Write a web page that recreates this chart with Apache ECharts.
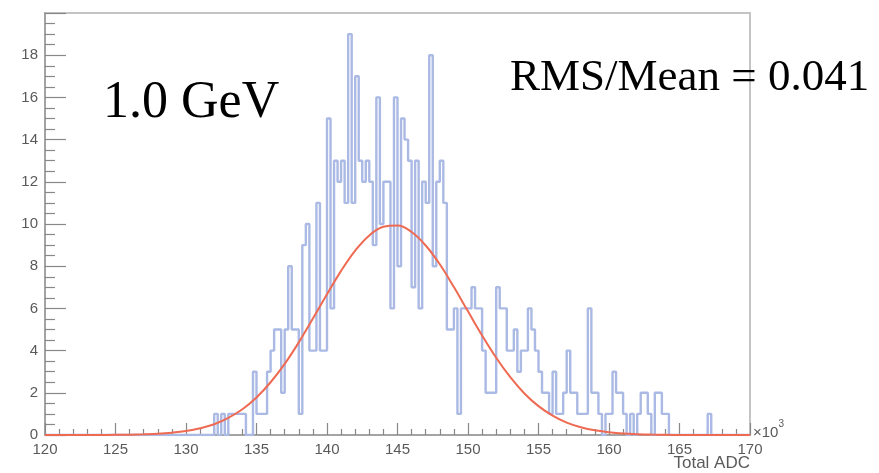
<!DOCTYPE html>
<html>
<head>
<meta charset="utf-8">
<script src="https://cdn.jsdelivr.net/npm/echarts@6/dist/echarts.min.js"></script>
<style>
  html, body { margin: 0; padding: 0; background: #ffffff; }
  #chart { width: 879px; height: 473px; }
</style>
</head>
<body>
<div id="chart"></div>
<script>
// Total ADC histogram: 200 bins from 120 to 170 (x10^3)
const histMin = 120;
const histMax = 170;
const binCounts = [
  0,0,0,0,0,0,0,0,0,0, 0,0,0,0,0,0,0,0,0,0,
  0,0,0,0,0,0,0,0,0,0, 0,0,0,0,0,0,0,0,0,0,
  0,0,0,0,0,0,0,0,1,0, 1,0,1,1,1,1,1,0,0,3,
  1,1,1,3,4,5,5,2,5,8, 5,5,1,9,10,4,4,11,4,4,
  15,6,13,12,13,11,19,11,17,13, 12,13,12,9,16,10,12,12,6,16,
  8,15,14,13,7,13,6,12,11,18, 8,12,13,11,5,5,6,1,6,6,
  6,7,6,6,4,2,2,2,7,6, 6,4,4,5,3,4,4,6,5,4,
  3,2,2,1,3,1,1,2,4,2, 2,1,1,1,6,2,2,1,0,1,
  1,3,2,2,1,0,1,0,1,2, 2,1,0,2,2,1,1,0,0,0,
  0,0,0,0,0,0,0,0,1,0, 0,0,0,0,0,0,0,0,0,0
];

// Gaussian fit curve, sampled every 1 (x10^3)
const fitX = [
  120,121,122,123,124,125,126,127,128,129,
  130,131,132,133,134,135,136,137,138,139,
  140,141,142,143,144,145,146,147,148,149,
  150,151,152,153,154,155,156,157,158,159,
  160,161,162,163,164,165,166,167,168,169,170
];
const fitY = [
  0,0,0,0.001,0.003,0.008,0.017,0.033,0.059,0.11,
  0.19,0.32,0.51,0.81,1.22,1.78,2.50,3.37,4.39,5.52,
  6.67,7.78,8.74,9.46,9.87,9.93,9.62,8.98,8.09,7.01,
  5.86,4.72,3.66,2.74,1.97,1.37,0.92,0.59,0.37,0.22,
  0.13,0.07,0.04,0.02,0.01,0.003,0.001,0,0,0,0
];

const xTicks = [120,125,130,135,140,145,150,155,160,165,170];
const yTicks = [0,2,4,6,8,10,12,14,16,18];

const binWidth = (histMax - histMin) / binCounts.length;
const histData = binCounts.map((c, i) => [histMin + i * binWidth, c]);
histData.push([histMax, binCounts[binCounts.length - 1]]);
const fitData = fitX.map((x, i) => [x, fitY[i]]);

const chart = echarts.init(document.getElementById('chart'), null, { renderer: 'canvas' });

const labelFont = { fontFamily: 'Liberation Sans', fontSize: 15, color: '#5a5a5a' };

chart.setOption({
  animation: false,
  backgroundColor: '#ffffff',
  grid: {
    left: 45, right: 129, top: 13, bottom: 38,
    show: true, borderColor: '#c4c4c4', borderWidth: 2, backgroundColor: 'transparent'
  },
  xAxis: {
    type: 'value', min: histMin, max: histMax, interval: 5,
    axisLine: { lineStyle: { color: '#999999', width: 1.5 } },
    axisTick: { inside: true, length: 12, lineStyle: { color: '#888888', width: 1.2 } },
    minorTick: { show: true, splitNumber: 5, length: 6, lineStyle: { color: '#888888', width: 1.2 } },
    splitLine: { show: false },
    axisLabel: Object.assign({ margin: 7, formatter: v => xTicks.includes(v) ? String(v) : '' }, labelFont)
  },
  yAxis: {
    type: 'value', min: 0, max: 20, interval: 2,
    axisLine: { show: true, lineStyle: { color: '#999999', width: 1.5 } },
    axisTick: { show: true, inside: true, length: 21, lineStyle: { color: '#888888', width: 1.2 } },
    minorTick: { show: true, splitNumber: 4, length: 10, lineStyle: { color: '#888888', width: 1.2 } },
    splitLine: { show: false },
    axisLabel: Object.assign({ margin: 7, formatter: v => yTicks.includes(v) ? String(v) : '' }, labelFont)
  },
  series: [
    {
      name: 'Total ADC',
      type: 'line',
      step: 'end',
      data: histData,
      symbol: 'none',
      lineStyle: { color: '#abbae4', width: 2.4 },
      z: 2
    },
    {
      name: 'Gaussian fit',
      type: 'line',
      smooth: 0.4,
      data: fitData,
      symbol: 'none',
      lineStyle: { color: '#ef6a52', width: 2 },
      z: 3
    }
  ],
  graphic: [
    {
      type: 'text', left: 103, top: 77,
      style: { text: '1.0 GeV', font: '52px "Liberation Serif"', fill: '#000000' }
    },
    {
      type: 'text', left: 510, top: 56,
      style: { text: 'RMS/Mean = 0.041', font: '45px "Liberation Serif"', fill: '#000000' }
    },
    {
      type: 'text', left: 753, top: 419,
      style: {
        text: '{b|×10}{s|3}',
        rich: {
          b: { fontFamily: 'Liberation Sans', fontSize: 15, fill: '#5a5a5a', padding: [6, 0, 0, 0] },
          s: { fontFamily: 'Liberation Sans', fontSize: 10, fill: '#5a5a5a', verticalAlign: 'top' }
        }
      }
    },
    {
      type: 'text', right: 129, top: 455,
      style: { text: 'Total ADC', font: '17px "Liberation Sans"', fill: '#5a5a5a' }
    }
  ]
});
</script>
</body>
</html>
